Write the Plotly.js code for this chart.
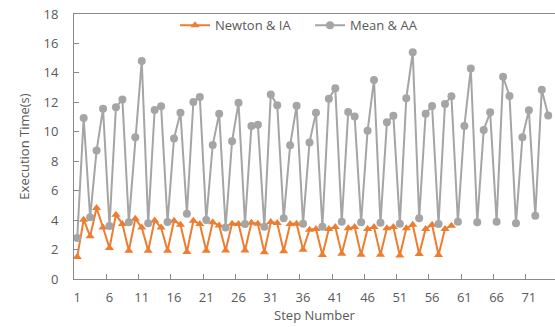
<!DOCTYPE html>
<html>
<head>
<meta charset="utf-8">
<script src="https://cdn.plot.ly/plotly-3.0.1.min.js"></script>
<style>html,body{margin:0;padding:0;background:#fff;}#chart{width:555px;height:327px;}</style>
</head>
<body>
<div id="chart"></div>
<script>
const newtonIA = [1.5, 4.03, 2.9, 4.82, 3.5, 2.1, 4.37, 3.74, 1.92, 4.1,
  3.5, 1.92, 3.98, 3.5, 1.92, 3.96, 3.69, 1.83, 3.96, 3.74,
  1.92, 3.85, 3.64, 1.94, 3.76, 3.74, 1.94, 3.82, 3.76, 1.81,
  3.87, 3.8, 1.88, 3.74, 3.76, 1.99, 3.35, 3.4, 1.63, 3.4,
  3.53, 1.72, 3.44, 3.53, 1.65, 3.4, 3.53, 1.65, 3.44, 3.53,
  1.6, 3.44, 3.69, 1.7, 3.4, 3.69, 1.63, 3.4, 3.62];
const meanAA = [2.79, 10.94, 4.19, 8.72, 11.57, 3.6, 11.66, 12.2, 3.85, 9.62,
  14.81, 3.78, 11.48, 11.73, 3.87, 9.55, 11.3, 4.44, 12.02, 12.36,
  4.01, 9.1, 11.23, 3.5, 9.36, 11.98, 3.74, 10.39, 10.48, 3.55,
  12.54, 11.8, 4.12, 9.08, 11.77, 3.76, 9.28, 11.3, 3.55, 12.25,
  12.95, 3.89, 11.34, 11.03, 3.85, 10.07, 13.52, 3.82, 10.64, 11.09,
  3.76, 12.27, 15.4, 4.12, 11.23, 11.75, 3.74, 11.89, 12.41, 3.89,
  10.39, 14.29, 3.85, 10.12, 11.32, 3.89, 13.74, 12.43, 3.78, 9.62,
  11.46, 4.3, 12.86, 11.11];
const xLabels = ['1','6','11','16','21','26','31','36','41','46','51','56','61','66','71'];
const xLabelPos = xLabels.map(Number);
const xTickPos = [5.5,10.5,15.5,20.5,25.5,30.5,35.5,40.5,45.5,50.5,55.5,60.5,65.5,70.5];
const steps1 = newtonIA.map((_, i) => i + 1);
const steps2 = meanAA.map((_, i) => i + 1);

const font = {family: 'Open Sans, Liberation Sans, sans-serif', size: 13, color: '#595959'};
const xr = [0.5, 75.05];

const traces = [
  {x: steps1, y: newtonIA, name: 'Newton & IA', type: 'scatter', mode: 'lines+markers',
   line: {color: '#ed7d31', width: 2}, marker: {symbol: 'triangle-up', size: 8, color: '#ed7d31'}},
  {x: steps2, y: meanAA, name: 'Mean & AA', type: 'scatter', mode: 'lines+markers',
   line: {color: '#a5a5a5', width: 2}, marker: {symbol: 'circle', size: 8, color: '#a5a5a5'}},
  {x: [xr[0]], y: [null], xaxis: 'x2', showlegend: false, hoverinfo: 'skip', type: 'scatter', mode: 'markers'}
];

const layout = {
  width: 555, height: 327,
  margin: {l: 74, r: 0, t: 14, b: 48},
  paper_bgcolor: '#fff', plot_bgcolor: '#fff',
  font: font,
  showlegend: true,
  legend: {orientation: 'h', x: 0.21, xanchor: 'left', y: 1.014, yanchor: 'top',
           font: font, bgcolor: 'rgba(0,0,0,0)', itemwidth: 30, entrywidth: 90},
  xaxis: {range: xr, tickvals: xLabelPos, ticktext: xLabels, ticks: '', showgrid: false,
          zeroline: false, showline: true, linecolor: '#898989', linewidth: 1, mirror: true,
          tickfont: font, ticklabelstandoff: 6,
          title: {text: 'Step Number', font: font, standoff: 3}},
  xaxis2: {range: xr, overlaying: 'x', anchor: 'y', side: 'bottom', tickvals: xTickPos,
           ticks: 'inside', ticklen: 5, tickcolor: '#898989', showticklabels: false,
           showgrid: false, zeroline: false, showline: false},
  yaxis: {range: [0, 18], tickvals: [0,2,4,6,8,10,12,14,16,18], ticks: 'inside', ticklen: 5,
          tickcolor: '#898989', showgrid: false, zeroline: false, showline: true,
          linecolor: '#898989', linewidth: 1, tickfont: font, ticklabelstandoff: 12,
          title: {text: 'Execution Time(s)', font: font, standoff: 10}}
};

Plotly.newPlot('chart', traces, layout, {displayModeBar: false, staticPlot: true});
</script>
</body>
</html>
